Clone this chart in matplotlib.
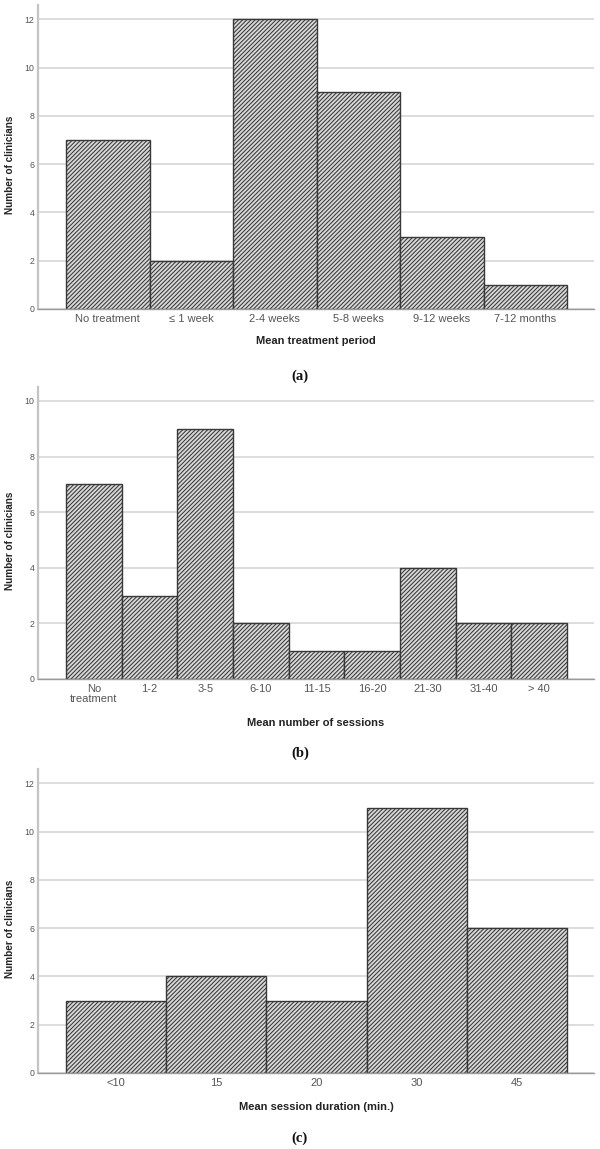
import matplotlib
matplotlib.use("Agg")
import matplotlib.pyplot as plt
import numpy as np

# ---- data ----
cats_a = ["No treatment", "\u2264 1 week", "2-4 weeks", "5-8 weeks", "9-12 weeks", "7-12 months"]
vals_a = [7, 2, 12, 9, 3, 1]
yticks_a = [0, 2, 4, 6, 8, 10, 12]
xlabel_a = "Mean treatment period"

cats_b = ["No\ntreatment", "1-2", "3-5", "6-10", "11-15", "16-20", "21-30", "31-40", "> 40"]
vals_b = [7, 3, 9, 2, 1, 1, 4, 2, 2]
yticks_b = [0, 2, 4, 6, 8, 10]
xlabel_b = "Mean number of sessions"

cats_c = ["<10", "15", "20", "30", "45"]
vals_c = [3, 4, 3, 11, 6]
yticks_c = [0, 2, 4, 6, 8, 10, 12]
xlabel_c = "Mean session duration (min.)"

panel_labels = ["(a)", "(b)", "(c)"]
ylabel = "Number of clinicians"

W, H = 600, 1149
DPI = 100
plt.rcParams['font.family'] = ['Liberation Sans', 'DejaVu Sans']
plt.rcParams['hatch.linewidth'] = 0.75

fig = plt.figure(figsize=(W / DPI, H / DPI), dpi=DPI)

AX_L, AX_R = 38, 594
BAR_L, BAR_R = 66, 567

# (top px, bottom px, ymax, xlabel y px, panel label y px)
panels = [
    (cats_a, vals_a, yticks_a, xlabel_a, 5, 309, 12.6, 341, 376),
    (cats_b, vals_b, yticks_b, xlabel_b, 387, 679, 10.5, 723, 753),
    (cats_c, vals_c, yticks_c, xlabel_c, 769, 1073, 12.6, 1107, 1138),
]

for i, (cats, vals, yt, xl, top, bot, ymax, xly, ply) in enumerate(panels):
    ax = fig.add_axes([AX_L / W, 1 - bot / H, (AX_R - AX_L) / W, (bot - top) / H])
    n = len(cats)
    ppu = (BAR_R - BAR_L) / n
    x = np.arange(n)
    ax.bar(x, vals, width=1.0, facecolor='#d8d8d8', edgecolor='#383838',
           hatch='////////', linewidth=1.0, zorder=3)
    ax.set_xlim(-0.5 - (BAR_L - AX_L) / ppu, n - 0.5 + (AX_R - BAR_R) / ppu)
    ax.set_ylim(0, ymax)
    ax.set_yticks(yt)
    ax.set_yticklabels([str(v) for v in yt], fontsize=6.3, color='#555555')
    ax.set_xticks(x)
    ax.set_xticklabels(cats, fontsize=8, color='#555555', linespacing=1.0)
    ax.tick_params(axis='both', length=0)
    ax.tick_params(axis='y', pad=2.5)
    ax.tick_params(axis='x', pad=3.5)
    ax.yaxis.grid(True, color='#dadada', linewidth=1.3, zorder=0)
    ax.set_axisbelow(True)
    for s in ['top', 'right']:
        ax.spines[s].set_visible(False)
    ax.spines['left'].set_color('#c4c4c4')
    ax.spines['left'].set_linewidth(1.6)
    ax.spines['bottom'].set_color('#9a9a9a')
    ax.spines['bottom'].set_linewidth(1.0)
    ax.spines['bottom'].set_zorder(4)

    fig.text((AX_L + AX_R) / 2 / W, 1 - xly / H, xl, ha='center', va='center',
             fontsize=8, fontweight='bold', color='#222222')
    fig.text(10 / W, 1 - ((top + bot) / 2 + 8) / H, ylabel, ha='center', va='center',
             rotation=90, fontsize=7.2, fontweight='bold', color='#222222')
    fig.text(0.5, 1 - ply / H, panel_labels[i], ha='center', va='center',
             fontsize=10.5, fontweight='bold', family=['Liberation Serif', 'DejaVu Serif'],
             color='#111111')

fig.savefig("out.png", dpi=DPI)
